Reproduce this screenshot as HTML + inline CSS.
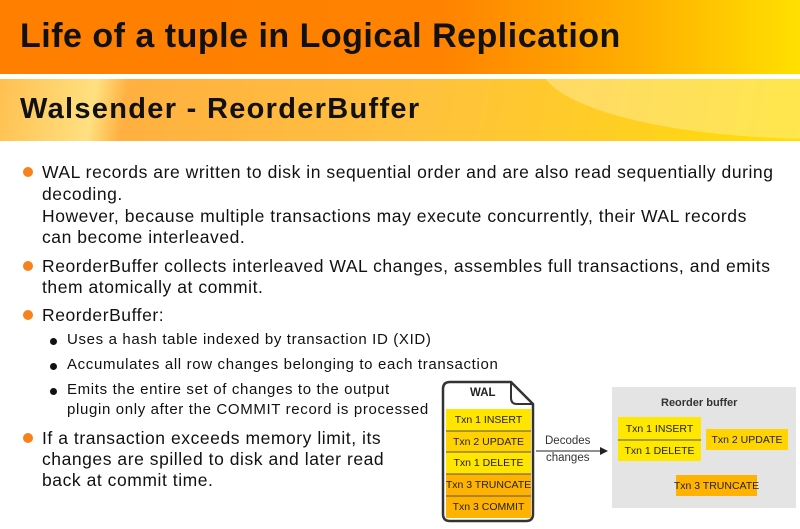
<!DOCTYPE html>
<html><head><meta charset="utf-8"><style>
body{margin:0;width:800px;height:529px;overflow:hidden;background:#fff;font-family:"Liberation Sans",sans-serif;position:relative}
.t{position:absolute;white-space:nowrap;color:#111}
.b1{position:absolute;width:10px;height:10px;border-radius:50%;background:#f7821b}
.b2{position:absolute;width:7px;height:7px;border-radius:50%;background:#111}
.l{font-size:17.5px;letter-spacing:0.55px;line-height:22px;left:42px}
.s{font-size:15px;letter-spacing:0.65px;left:67px}
.box{position:absolute;display:flex;align-items:center;justify-content:center;font-size:10.5px;color:#222;white-space:nowrap}
</style></head><body>
<div style="position:absolute;left:0;top:0;width:800px;height:74px;background:linear-gradient(90deg,#ff7f00 0%,#ff8200 55%,#ffb000 80%,#ffe000 100%)"></div>
<div class="t" style="left:20px;top:17px;font-size:34px;letter-spacing:0.5px;font-weight:bold;">Life of a tuple in Logical Replication</div>
<div style="position:absolute;left:0;top:79px;width:800px;height:62px;overflow:hidden;background:linear-gradient(100deg,#ffc050 0%,#ffe080 12%,#ffb040 16%,#ffc040 50%,#ffd020 80%,#ffe000 100%)">
<div style="position:absolute;left:540px;top:-90px;width:560px;height:150px;border-radius:50%;background:rgba(255,240,170,0.45)"></div>
</div>
<div class="t" style="left:20px;top:93px;font-size:29px;letter-spacing:1.3px;font-weight:bold;">Walsender - ReorderBuffer</div>

<div class="b1" style="left:23px;top:167px"></div>
<div class="t l" style="top:161px">WAL records are written to disk in sequential order and are also read sequentially during</div>
<div class="t l" style="top:183px">decoding.</div>
<div class="t l" style="top:205px">However, because multiple transactions may execute concurrently, their WAL records</div>
<div class="t l" style="top:226px">can become interleaved.</div>
<div class="b1" style="left:23px;top:261px"></div>
<div class="t l" style="top:255px">ReorderBuffer collects interleaved WAL changes, assembles full transactions, and emits</div>
<div class="t l" style="top:276px">them atomically at commit.</div>
<div class="b1" style="left:23px;top:310px"></div>
<div class="t l" style="top:304px">ReorderBuffer:</div>
<div class="b2" style="left:50px;top:338px"></div>
<div class="t s" style="top:331px">Uses a hash table indexed by transaction ID (XID)</div>
<div class="b2" style="left:50px;top:363px"></div>
<div class="t s" style="top:356px">Accumulates all row changes belonging to each transaction</div>
<div class="b2" style="left:50px;top:388px"></div>
<div class="t s" style="top:381px">Emits the entire set of changes to the output</div>
<div class="t s" style="top:401px">plugin only after the COMMIT record is processed</div>
<div class="b1" style="left:23px;top:433px"></div>
<div class="t l" style="top:427px">If a transaction exceeds memory limit, its</div>
<div class="t l" style="top:448px">changes are spilled to disk and later read</div>
<div class="t l" style="top:469px">back at commit time.</div>

<svg style="position:absolute;left:0;top:0" width="800" height="529">
<path d="M450,382 H511 L533,404 V514 Q533,521 526,521 H450 Q443,521 443,514 V389 Q443,382 450,382 Z" fill="#fff" stroke="#333" stroke-width="2.5"/>
<path d="M511,382 V398 Q511,404 517,404 H533" fill="none" stroke="#333" stroke-width="2"/>
<rect x="446" y="409" width="85" height="22" fill="#ffe500"/>
<rect x="446" y="431" width="85" height="21" fill="#ffd200"/>
<rect x="446" y="452" width="85" height="22" fill="#ffe500"/>
<rect x="446" y="474" width="85" height="22" fill="#ffb300"/>
<rect x="446" y="496" width="85" height="22" fill="#ffb300"/>
<g stroke="#555" stroke-width="1"><line x1="446" y1="431" x2="531" y2="431"/><line x1="446" y1="452" x2="531" y2="452"/><line x1="446" y1="474" x2="531" y2="474"/><line x1="446" y1="496" x2="531" y2="496"/></g>
<line x1="536" y1="451" x2="602" y2="451" stroke="#222" stroke-width="1"/>
<path d="M608,451 L600,447 L600,455 Z" fill="#222"/>
<rect x="612" y="387" width="184" height="121" fill="#e4e4e4"/>
<rect x="618" y="417" width="83" height="44" fill="#ffe800"/>
<line x1="618" y1="440" x2="701" y2="440" stroke="#555" stroke-width="1"/>
<rect x="706" y="429" width="82" height="21" fill="#ffd400"/>
<rect x="676" y="475" width="81" height="21" fill="#ffb300"/>
</svg>
<div class="t" style="left:470px;top:387px;font-size:11.5px;font-weight:bold;color:#222">WAL</div>
<div class="box" style="left:446px;top:409px;width:85px;height:22px">Txn 1 INSERT</div>
<div class="box" style="left:446px;top:431px;width:85px;height:21px">Txn 2 UPDATE</div>
<div class="box" style="left:446px;top:452px;width:85px;height:22px">Txn 1 DELETE</div>
<div class="box" style="left:446px;top:474px;width:85px;height:22px">Txn 3 TRUNCATE</div>
<div class="box" style="left:446px;top:496px;width:85px;height:22px">Txn 3 COMMIT</div>
<div class="t" style="left:545px;top:435px;font-size:11.5px;color:#333">Decodes</div>
<div class="t" style="left:546px;top:452px;font-size:11.5px;color:#333">changes</div>
<div class="t" style="left:661px;top:397px;font-size:11px;font-weight:bold;color:#333">Reorder buffer</div>
<div class="box" style="left:618px;top:417px;width:83px;height:23px">Txn 1 INSERT</div>
<div class="box" style="left:618px;top:440px;width:83px;height:21px">Txn 1 DELETE</div>
<div class="box" style="left:706px;top:429px;width:82px;height:21px">Txn 2 UPDATE</div>
<div class="box" style="left:676px;top:475px;width:81px;height:21px">Txn 3 TRUNCATE</div>
</body></html>
